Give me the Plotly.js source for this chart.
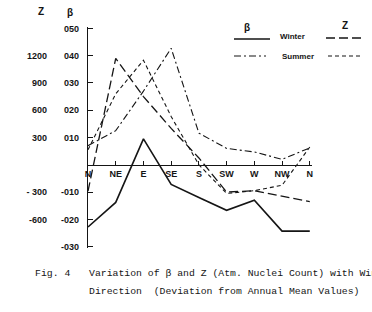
<!DOCTYPE html>
<html>
<head>
<meta charset="utf-8">
<script src="https://cdn.plot.ly/plotly-3.0.1.min.js"></script>
<style>html,body{margin:0;padding:0;background:#fff;}#chart{width:372px;height:312px;}</style>
</head>
<body>
<div id="chart"></div>
<script>
// ---- data ----
const directions = ['N', 'NE', 'E', 'SE', 'S', 'SW', 'W', 'NW', 'N'];
const betaWinter = [-0.0228, -0.0138, 0.0095, -0.0072, -0.0120, -0.0167, -0.0130, -0.0243, -0.0243];
const betaSummer = [0.0070, 0.0125, 0.0270, 0.0427, 0.0116, 0.0060, 0.0047, 0.0020, 0.0062];
const zWinter = [-290, 1170, 750, 400, 75, -300, -285, -345, -405];
const zSummer = [165, 780, 1150, 530, 0, -315, -285, -225, 195];
const betaTickVals = [-0.03, -0.02, -0.01, 0.01, 0.02, 0.03, 0.04, 0.05];
const betaTickText = ['-030', '-020', '-010', '010', '020', '030', '040', '050'];
const zTickVals = [-600, -300, 300, 600, 900, 1200];
const zTickText = ['-600', '- 300', '300', '600', '900', '1200'];

const xIdx = directions.map((d, i) => i);
const betaRange = [-0.0305, 0.0505];
const zRange = betaRange.map(v => v * 30000);

// pixel helpers (plot area: x 0..312, y 27..248)
const W = 312, T = 27, B = 248;
const px = x => x / W;
const py = y => (B - y) / (B - T);

const ink = '#151515';
const traces = [
  {x: xIdx, y: betaWinter, yaxis: 'y', mode: 'lines', line: {color: ink, width: 1.6}},
  {x: xIdx, y: betaSummer, yaxis: 'y', mode: 'lines', line: {color: ink, width: 1.1, dash: '7px,3px,2px,3px'}},
  {x: xIdx, y: zWinter, yaxis: 'y2', mode: 'lines', line: {color: ink, width: 1.3, dash: '9px,4px'}},
  {x: xIdx, y: zSummer, yaxis: 'y2', mode: 'lines', line: {color: ink, width: 1.1, dash: '4px,3px'}}
];

const sans = 'Liberation Sans, Arial, sans-serif';
const mono = 'Liberation Mono, DejaVu Sans Mono, monospace';
const lblFont = {family: sans, size: 9, color: ink, weight: 'bold'};
function note(x, y, text, font, xanchor) {
  return {xref: 'paper', yref: 'paper', x: px(x), y: py(y), text: text, showarrow: false,
          xanchor: xanchor || 'center', yanchor: 'middle', font: font};
}
const layout = {
  width: 372, height: 312, autosize: false,
  margin: {l: 0, r: 60, t: T, b: 312 - B, pad: 0},
  paper_bgcolor: '#fff', plot_bgcolor: 'rgba(0,0,0,0)',
  showlegend: false,
  xaxis: {
    domain: [88 / W, 1], range: [0, 8.08], anchor: 'free',
    position: (0 - betaRange[0]) / (betaRange[1] - betaRange[0]),
    tickvals: xIdx, ticktext: directions, tickmode: 'array',
    showline: true, linecolor: ink, linewidth: 1.2,
    ticks: 'inside', ticklen: 4, tickcolor: ink, tickwidth: 1,
    showgrid: false, zeroline: false, tickfont: lblFont, ticklabelstandoff: 0
  },
  yaxis: {
    range: betaRange, anchor: 'x', side: 'left',
    tickmode: 'array', tickvals: betaTickVals, ticktext: betaTickText,
    showline: true, linecolor: ink, linewidth: 1.2,
    ticks: 'inside', ticklen: 5, tickcolor: ink,
    showgrid: false, zeroline: false, tickfont: lblFont, ticklabelstandoff: 6
  },
  yaxis2: {
    range: zRange, overlaying: 'y', anchor: 'free', side: 'left',
    position: 47 / W,
    tickmode: 'array', tickvals: zTickVals, ticktext: zTickText,
    showline: false, ticks: '', showgrid: false, zeroline: false,
    tickfont: lblFont
  },
  shapes: [
    {type: 'line', xref: 'paper', yref: 'paper', x0: px(234), x1: px(270), y0: py(39), y1: py(39), line: {color: ink, width: 1.6}},
    {type: 'line', xref: 'paper', yref: 'paper', x0: px(326), x1: px(362), y0: py(38), y1: py(38), line: {color: ink, width: 1.3, dash: '9px,4px'}},
    {type: 'line', xref: 'paper', yref: 'paper', x0: px(234), x1: px(266), y0: py(56), y1: py(56), line: {color: ink, width: 1.1, dash: '7px,3px,2px,3px'}},
    {type: 'line', xref: 'paper', yref: 'paper', x0: px(328), x1: px(360), y0: py(56), y1: py(56), line: {color: ink, width: 1.1, dash: '4px,3px'}}
  ],
  annotations: [
    note(41, 11, 'Z', {family: sans, size: 10, color: ink, weight: 'bold'}),
    note(70, 12, 'β', {family: sans, size: 10, color: ink, weight: 'bold'}),
    note(247, 27, 'β', {family: sans, size: 10, color: ink, weight: 'bold'}),
    note(345, 25, 'Z', {family: sans, size: 10, color: ink, weight: 'bold'}),
    note(278, 37, 'Winter', {family: sans, size: 8, color: ink, weight: 'bold'}, 'left'),
    note(280, 56, 'Summer', {family: sans, size: 8, color: ink, weight: 'bold'}, 'left'),
    note(33, 273, 'Fig. 4', {family: mono, size: 9.8, color: ink}, 'left'),
    note(87, 273, 'Variation of β and Z (Atm. Nuclei Count) with Wind', {family: mono, size: 9.8, color: ink}, 'left'),
    note(87, 291, 'Direction  (Deviation from Annual Mean Values)', {family: mono, size: 9.8, color: ink}, 'left')
  ]
};

Plotly.newPlot('chart', traces, layout, {staticPlot: true, displayModeBar: false});
</script>
</body>
</html>
